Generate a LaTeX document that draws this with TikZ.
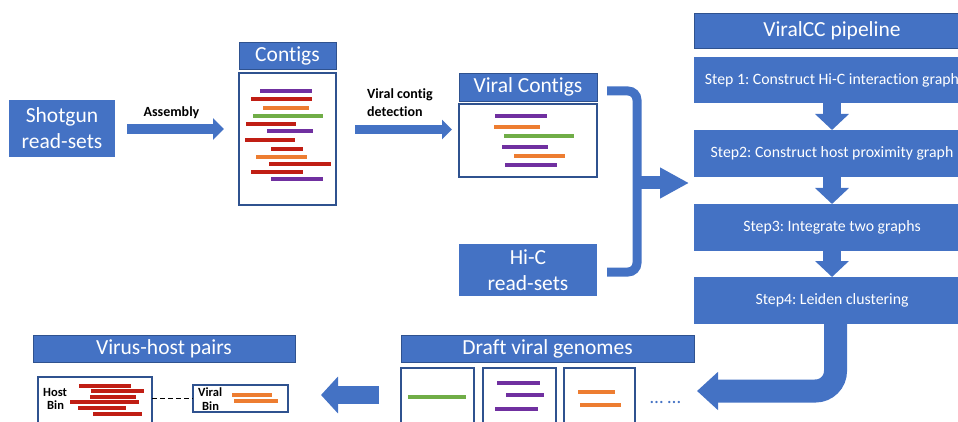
\documentclass[tikz,border=0pt]{standalone}
\usepackage{fontspec}
\setmainfont{Carlito}[Ligatures=NoCommon]
\usetikzlibrary{arrows.meta,calc}
\definecolor{ofblue}{HTML}{4472C4}
\definecolor{edgeblue}{HTML}{2F528F}
\definecolor{cpurple}{HTML}{7030A0}
\definecolor{cred}{HTML}{C01E14}
\definecolor{corange}{HTML}{ED7D31}
\definecolor{cgreen}{HTML}{70AD47}
\frenchspacing

\begin{document}
\begin{tikzpicture}[x=1pt,y=-1pt,
  box/.style={fill=ofblue, text=white, inner sep=0pt, outer sep=0pt, align=center,
              font=\fontsize{21.5}{26}\selectfont},
  titlebox/.style={box, draw=edgeblue, line width=0.8pt},
  stepbox/.style={box, minimum width=276pt, minimum height=47pt, font=\fontsize{15.8}{18}\selectfont},
  panel/.style={draw=edgeblue, fill=white, line width=1.2pt, inner sep=0pt, outer sep=0pt},
  seq/.style={line width=3.8pt},
  hseq/.style={line width=3.3pt},
  tag/.style={font=\bfseries\fontsize{14}{18}\selectfont, align=left, inner sep=0pt},
  bintag/.style={font=\bfseries\fontsize{12.5}{15}\selectfont, inner sep=0pt},
  stepflow/.style={ofblue, line width=18pt, -{Triangle[length=16pt,width=33pt]}},
]
\useasboundingbox (0,0) rectangle (958,422);
\clip (0,0) rectangle (958,422);

% ---------- input and assembly ----------
\node[box, minimum width=106pt, minimum height=57pt] (shotgun) at (62,128.5) {Shotgun\\read-sets};

\node[titlebox, minimum width=97pt, minimum height=27pt] (contigsT) at (287.5,55.5) {Contigs};
\node[panel, minimum width=97pt, minimum height=132pt] (contigsP) at (287.5,139) {};
\draw[seq, cpurple] (260,91) -- (312,91);
\draw[seq, cred]    (251,99) -- (312,99);
\draw[seq, corange] (263,108) -- (309,108);
\draw[seq, cgreen]  (253,116) -- (323,116);
\draw[seq, cred]    (246,124) -- (296,124);
\draw[seq, cpurple] (267,131) -- (313,131);
\draw[seq, cred]    (245,140) -- (295,140);
\draw[seq, cred]    (271,149) -- (303,149);
\draw[seq, corange] (256,157) -- (307,157);
\draw[seq, cred]    (269,164) -- (331,164);
\draw[seq, cred]    (251,172) -- (303,172);
\draw[seq, cpurple] (271,179) -- (323,179);

\draw[ofblue, line width=10pt, -{Triangle[length=11pt,width=21pt]}]
  ($(shotgun.east)+(12,0.5)$) -- ($(contigsP.west)+(-15,-10)$);
\node[tag, anchor=base] (asm) at (171.5,117) {Assembly};

% ---------- viral contig detection ----------
\node[titlebox, minimum width=138pt, minimum height=28pt] (vcT) at (528,87) {Viral Contigs};
\node[panel, minimum width=138pt, minimum height=73pt] (vcP) at (528,140.5) {};
\draw[seq, cpurple] (495,116) -- (547,116);
\draw[seq, corange] (494,127) -- (540,127);
\draw[seq, cgreen]  (504,136) -- (574,136);
\draw[seq, cpurple] (502,147) -- (548,147);
\draw[seq, corange] (514,156) -- (565,156);
\draw[seq, cpurple] (505,165) -- (557,165);

\draw[ofblue, line width=9.5pt, -{Triangle[length=10pt,width=19pt]}]
  ($(contigsP.east)+(19,-9.5)$) -- ($(vcP.west)+(-7,-11)$);
\node[tag, anchor=north west] (vcd) at (367,88.5) {Viral contig\\detection};

\node[box, minimum width=138pt, minimum height=52pt] (hic) at (528,270) {Hi-C\\read-sets};

% ---------- brace joining the two inputs ----------
\coordinate (brT) at ($(vcT.east)+(10,4)$);
\coordinate (brB) at ($(hic.east)+(10,2)$);
\coordinate (brM) at (637,183);
\draw[ofblue, line width=9pt, rounded corners=9pt]
  (brT) -- (brT -| brM) -- (brB -| brM) -- (brB);

% ---------- ViralCC pipeline ----------
\node[box, draw=edgeblue, line width=0.8pt, minimum width=276pt, minimum height=35pt] (pipe) at (832,30.5) {ViralCC pipeline};
\node[stepbox, minimum height=46pt] (s1) at (832,80) {Step 1: Construct Hi-C interaction graph};
\node[stepbox] (s2) at (832,153.5) {Step2: Construct host proximity graph};
\node[stepbox] (s3) at (832,227.5) {Step3: Integrate two graphs};
\node[stepbox] (s4) at (832,300.5) {Step4: Leiden clustering};

\draw[ofblue, line width=13pt, -{Triangle[length=29pt,width=29pt]}]
  ($(brM)+(-1,0)$) -- ($(s2.west)+(-5,29.5)$);

\draw[stepflow] (s1.south) -- (s2.north);
\draw[stepflow] (s2.south) -- (s3.north);
\draw[stepflow] (s3.south) -- (s4.north);

% ---------- outputs ----------
\node[titlebox, minimum width=293pt, minimum height=27pt] (draftT) at (547.5,348.5) {Draft viral genomes};
\node[panel, minimum width=73pt, minimum height=72pt] (g1) at (437.5,404) {};
\node[panel, minimum width=73pt, minimum height=72pt] (g2) at (519.5,404) {};
\node[panel, minimum width=71pt, minimum height=72pt] (g3) at (599.5,404) {};
\draw[seq, cgreen]  (408,397) -- (466,397);
\draw[seq, cpurple] (497,383) -- (540,383);
\draw[seq, cpurple] (506,395) -- (544,395);
\draw[seq, cpurple] (495,409) -- (538,409);
\draw[seq, corange] (578,392) -- (615,392);
\draw[seq, corange] (580,405) -- (621,405);
\node[text=ofblue, font=\fontsize{19}{20}\selectfont, inner sep=0pt, anchor=base] (more) at (665.5,403) {… …};

\draw[ofblue, line width=23pt, rounded corners=20pt, -{Triangle[length=21pt,width=37pt]}]
  ($(s4.south)+(3.5,-3)$) |- ($(draftT.east)+(3,42.5)$);

\node[titlebox, minimum width=262pt, minimum height=27pt] (vhT) at (164,348.5) {Virus-host pairs};
\node[panel, minimum width=114pt, minimum height=63pt] (host) at (95,408.5) {};
\node[panel, minimum width=95pt, minimum height=27pt] (vbin) at (240.5,398.5) {};
\draw[hseq, cred] (79,386) -- (131,386);
\draw[hseq, cred] (91,391) -- (144,391);
\draw[hseq, cred] (90,397) -- (136,397);
\draw[hseq, cred] (70,402) -- (139,402);
\draw[hseq, cred] (78,408) -- (126,408);
\draw[hseq, cred] (93,414) -- (142,414);
\node[bintag, anchor=west] (hostA) at (43,392) {Host};
\node[bintag, anchor=west] (hostB) at (47,405) {Bin};
\draw[hseq, corange] (232,395) -- (272,395);
\draw[hseq, corange] (234,401) -- (278,401);
\node[bintag, anchor=west] (vbinA) at (198,392) {Viral};
\node[bintag, anchor=west] (vbinB) at (202,406) {Bin};

\draw[line width=1.3pt, dash pattern=on 5pt off 3pt] (vbin.west -| host.east) -- (vbin.west);

\draw[ofblue, line width=18pt, -{Triangle[length=17pt,width=36pt]}]
  ($(g1.west)+(-22,-9)$) -- ($(vbin.east)+(33,-3.5)$);
\end{tikzpicture}
\end{document}
